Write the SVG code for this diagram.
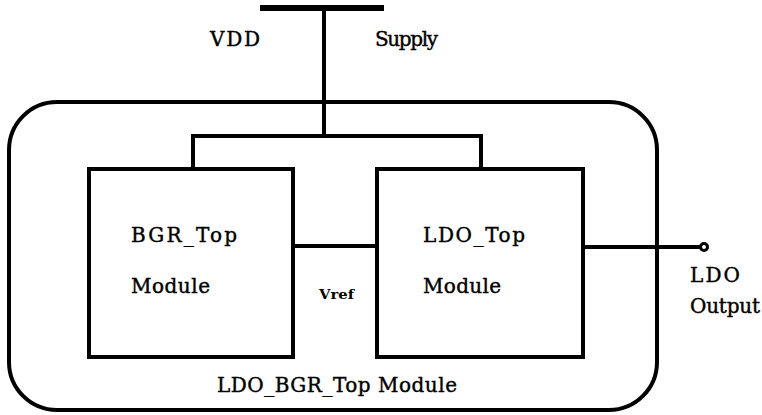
<svg xmlns="http://www.w3.org/2000/svg" width="762" height="415" viewBox="0 0 762 415">
<style>
.w{stroke:#000;stroke-width:4;fill:none;stroke-linecap:square}
.b{stroke:#000;stroke-width:4;fill:#fff}
.t{font-family:"DejaVu Serif","Liberation Serif",serif;font-size:20px;fill:#000;stroke:#000;stroke-width:0.4}
.s{font-family:"DejaVu Serif","Liberation Serif",serif;font-size:13px;font-weight:bold;fill:#000}
</style>
<rect width="762" height="415" fill="#fff"/>
<g id="container">
<rect x="9" y="102" width="648" height="308" rx="48" ry="48" class="b"/>
<text class="t" x="217" y="392" textLength="240" lengthAdjust="spacing">LDO_BGR_Top Module</text>
</g>
<g id="supply">
<line x1="260" y1="8" x2="384" y2="8" stroke="#000" stroke-width="6"/>
<text class="t" x="210" y="46" textLength="50" lengthAdjust="spacing">VDD</text>
<text class="t" x="375" y="46" textLength="63" lengthAdjust="spacing">Supply</text>
</g>
<g id="connectors">
<polyline class="w" points="324,8 324,136"/>
<polyline class="w" points="193,168 193,136 481,136 481,168"/>
<line class="w" x1="293" y1="246" x2="377" y2="246"/>
<line class="w" x1="583" y1="247" x2="700" y2="247"/>
<text class="s" x="319" y="299" textLength="35" lengthAdjust="spacingAndGlyphs">Vref</text>
</g>
<g id="bgr">
<rect x="89" y="169" width="204" height="188" class="b"/>
<text class="t" x="131" y="242" textLength="106" lengthAdjust="spacing">BGR_Top</text>
<text class="t" x="131" y="293" textLength="79" lengthAdjust="spacing">Module</text>
</g>
<g id="ldo">
<rect x="377" y="169" width="206" height="188" class="b"/>
<text class="t" x="423" y="242" textLength="102" lengthAdjust="spacing">LDO_Top</text>
<text class="t" x="423" y="293" textLength="78" lengthAdjust="spacing">Module</text>
</g>
<g id="output">
<circle cx="704" cy="247" r="3.5" fill="#fff" stroke="#000" stroke-width="3"/>
<text class="t" x="690" y="282" textLength="50" lengthAdjust="spacing">LDO</text>
<text class="t" x="690" y="313" textLength="70" lengthAdjust="spacing">Output</text>
</g>
</svg>
